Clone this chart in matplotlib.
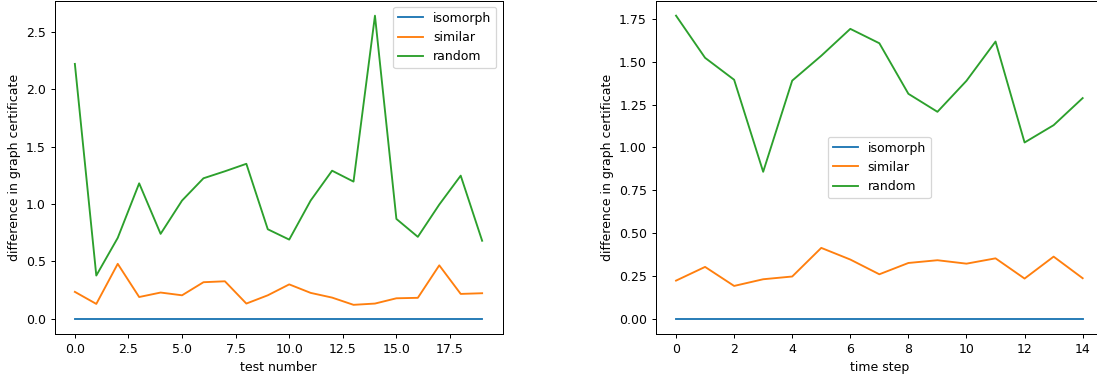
import matplotlib
matplotlib.use("Agg")
import matplotlib.pyplot as plt

# left panel: per test
test_number = list(range(20))
test_isomorph = [0.0] * 20
test_similar = [0.235, 0.13, 0.479, 0.19, 0.229, 0.205, 0.319, 0.327, 0.133, 0.205,
                0.30, 0.226, 0.185, 0.122, 0.133, 0.179, 0.183, 0.466, 0.217, 0.223]
test_random = [2.22, 0.377, 0.705, 1.18, 0.74, 1.03, 1.224, 1.285, 1.35, 0.78,
               0.69, 1.03, 1.29, 1.195, 2.64, 0.87, 0.714, 0.995, 1.247, 0.68]

# right panel: per time step
time_step = list(range(15))
time_isomorph = [0.0] * 15
time_similar = [0.223, 0.303, 0.192, 0.231, 0.247, 0.414, 0.346, 0.26, 0.326, 0.342,
                0.322, 0.353, 0.235, 0.363, 0.237]
time_random = [1.769, 1.523, 1.395, 0.858, 1.39, 1.535, 1.692, 1.608, 1.313, 1.208,
               1.389, 1.618, 1.029, 1.13, 1.288]

DPI = 90
W, H = 1097, 377
fig = plt.figure(figsize=(W / DPI, H / DPI), dpi=DPI)
ax1 = fig.add_axes([54.5 / W, 43 / H, 448 / W, 333.5 / H])
ax2 = fig.add_axes([655.7 / W, 43 / H, 447.3 / W, 333.5 / H])

ax1.plot(test_number, test_isomorph, label="isomorph")
ax1.plot(test_number, test_similar, label="similar")
ax1.plot(test_number, test_random, label="random")
ax1.set_xlabel("test number")
ax1.set_ylabel("difference in graph certificate")
ax1.legend(loc="upper right")

ax2.plot(time_step, time_isomorph, label="isomorph")
ax2.plot(time_step, time_similar, label="similar")
ax2.plot(time_step, time_random, label="random")
ax2.set_xlabel("time step")
ax2.set_ylabel("difference in graph certificate")
ax2.legend(loc="center")

fig.savefig("out.png", dpi=DPI)
